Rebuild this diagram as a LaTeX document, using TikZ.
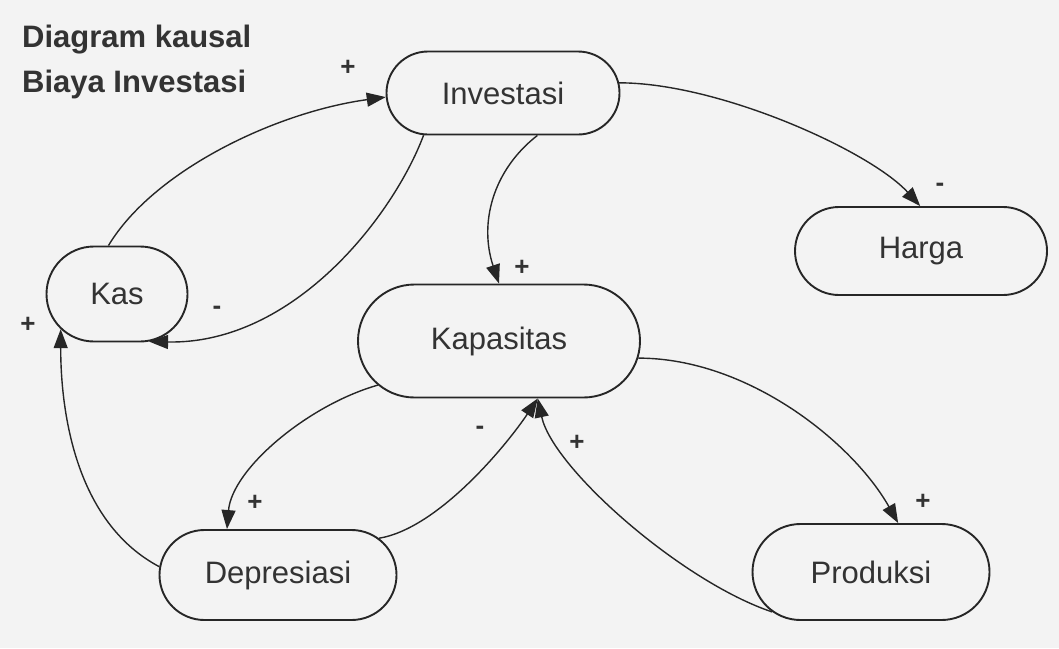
\documentclass[tikz,border=0pt]{standalone}
\usepackage{fontspec}
\setmainfont{Liberation Sans}
\usetikzlibrary{shapes.misc,arrows.meta}
\definecolor{ink}{HTML}{262626}
\definecolor{txt}{HTML}{333333}
\definecolor{paper}{HTML}{F3F3F3}
\begin{document}
\begin{tikzpicture}[x=1pt,y=-1pt,
  var/.style={rounded rectangle, draw=ink, line width=1.9pt, inner sep=0pt,
    text=txt, font=\fontsize{31}{36}\selectfont},
  link/.style={draw=ink, line width=1.4pt,
    -{Triangle[length=19pt,width=14pt]}},
  sign/.style={text=txt, font=\bfseries\fontsize{26}{30}\selectfont, inner sep=0pt},
  heading/.style={text=txt, font=\bfseries\fontsize{31}{36}\selectfont,
    inner sep=0pt, anchor=base west}]

% page
\fill[paper] (0,0) rectangle (1059,648);
\useasboundingbox (0,0) rectangle (1059,648);

% title
\node[heading] (t1) at (22,47) {Diagram kausal};
\node[heading] (t2) at (22,92) {Biaya Investasi};

% variables
\node[var, minimum width=233pt, minimum height=83pt] (inv)  at (503,93)  {Investasi};
\node[var, minimum width=252pt, minimum height=88pt] (hrg)  at (921,251) {Harga};
\node[var, minimum width=141pt, minimum height=95pt] (kas)  at (117,294) {Kas};
\node[var, minimum width=282pt, minimum height=113pt] (kap) at (499,341) {Kapasitas};
\node[var, minimum width=237pt, minimum height=90pt] (dep)  at (278,575) {Depresiasi};
\node[var, minimum width=237pt, minimum height=96pt] (prd)  at (871,572) {Produksi};

% causal links
\draw[link] (kas.100) .. controls +(45,-75) and +(-110,15) .. (inv.182);
\draw[link] (inv.208) .. controls +(-30,80) and +(145,3) .. (kas.-56);
\draw[link] (inv.-51) .. controls +(-45,35) and +(-20,-60) .. (kap.90);
\draw[link] (inv.5) .. controls +(100,0) and +(-50,-55) .. (hrg.91);
\draw[link] (kap.200) .. controls +(-70,20) and +(5,-60) .. (dep.138);
\draw[link] (dep.20) .. controls +(60,-10) and +(-30,45) .. (kap.-56);
\draw[link] (prd.202) .. controls +(-90,-30) and +(15,70) .. (kap.-56);
\draw[link] (kap.-7) .. controls +(110,0) and +(-45,-80) .. (prd.61);
\draw[link] (dep.176) .. controls +(-85,-45) and +(0,80) .. (kas.212);

% polarities
\node[sign] (s1) at (348,68)  {+};
\node[sign] (s2) at (217,310) {-};
\node[sign] (s3) at (522,268) {+};
\node[sign] (s4) at (940,187) {-};
\node[sign] (s5) at (255,503) {+};
\node[sign] (s6) at (480,430) {-};
\node[sign] (s7) at (577,443) {+};
\node[sign] (s8) at (923,502) {+};
\node[sign] (s9) at (28,325)  {+};
\end{tikzpicture}
\end{document}
